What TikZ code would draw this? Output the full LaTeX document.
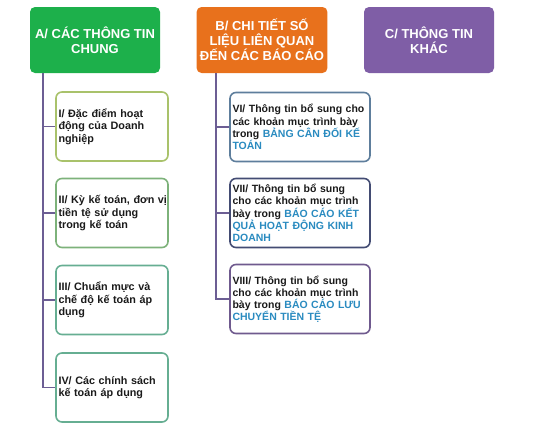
\documentclass[tikz,border=0pt]{standalone}
\usepackage{fontspec}
\setmainfont{Liberation Sans}
\definecolor{greenA}{HTML}{1DB04B}
\definecolor{orangeB}{HTML}{E8711C}
\definecolor{purpleC}{HTML}{7F5EA6}
\definecolor{linecol}{HTML}{6C5E94}
\definecolor{bdI}{HTML}{A9C26B}
\definecolor{bdII}{HTML}{7DB27A}
\definecolor{bdIII}{HTML}{66AE92}
\definecolor{bdVI}{HTML}{5E7E9C}
\definecolor{bdVII}{HTML}{434C73}
\definecolor{bdVIII}{HTML}{6F5A8E}
\definecolor{bluetext}{HTML}{2A8BC0}
\definecolor{bodytext}{HTML}{1A1A1A}
\newcommand{\hl}[1]{\textcolor{bluetext}{#1}}
\begin{document}
\begin{tikzpicture}[x=1pt,y=-1pt,
  header/.style={rectangle,rounded corners=5pt,minimum width=130pt,minimum height=66pt,
    text=white,align=center,font=\fontsize{13}{15}\selectfont\bfseries},
  itemA/.style={rectangle,rounded corners=6pt,draw,line width=1.6pt,fill=white,
    minimum width=112pt,minimum height=69pt,inner xsep=2.5pt,inner ysep=2pt,text width=107pt,
    align=left,text=bodytext,font=\fontsize{10.8}{12.4}\selectfont\bfseries},
  itemB/.style={itemA,minimum width=140pt,text width=135pt,font=\fontsize{10.5}{12.2}\selectfont\bfseries},
  tree/.style={draw=linecol,line width=1.8pt}]
\useasboundingbox (0,0) rectangle (543,431);
 % header boxes:
\node[header,fill=greenA] (A) at (95,40) {A/ CÁC THÔNG TIN\\CHUNG};
\node[header,fill=orangeB] (B) at (262,40) {B/ CHI TIẾT SỐ\\LIỆU LIÊN QUAN\\ĐẾN CÁC BÁO CÁO};
\node[header,fill=purpleC] (C) at (429,40) {C/ THÔNG TIN\\KHÁC};
 % column A:
\node[itemA,draw=bdI] (a1) at (112,126.5) {I/ Đặc điểm hoạt\\động của Doanh\\nghiệp};
\node[itemA,draw=bdII] (a2) at (112,213) {\mbox{II/ Kỳ kế toán, đơn vị}\\tiền tệ sử dụng\\trong kế toán};
\node[itemA,draw=bdIII] (a3) at (112,300) {III/ Chuẩn mực và\\chế độ kế toán áp\\dụng};
\node[itemA,draw=bdIII] (a4) at (112,387.5) {IV/ Các chính sách\\kế toán áp dụng};
\foreach \n in {a1,a2,a3,a4}
  \draw[tree] ([xshift=13pt]A.south west) |- (\n.west);
 % column B:
\node[itemB,draw=bdVI] (b1) at (300,127) {\mbox{VI/ Thông tin bổ sung cho}\\các khoản mục trình bày\\trong \hl{BẢNG CÂN ĐỐI KẾ}\\\hl{TOÁN}};
\node[itemB,draw=bdVII] (b2) at (300,213) {VII/ Thông tin bổ sung\\cho các khoản mục trình\\bày trong \hl{BÁO CÁO KẾT}\\\hl{QUẢ HOẠT ĐỘNG KINH}\\\hl{DOANH}};
\node[itemB,draw=bdVIII] (b3) at (300,299) {VIII/ Thông tin bổ sung\\cho các khoản mục trình\\bày trong \hl{BÁO CÁO LƯU}\\\hl{CHUYỂN TIỀN TỆ}};
\foreach \n in {b1,b2,b3}
  \draw[tree] ([xshift=20pt]B.south west) |- (\n.west);
\end{tikzpicture}
\end{document}
